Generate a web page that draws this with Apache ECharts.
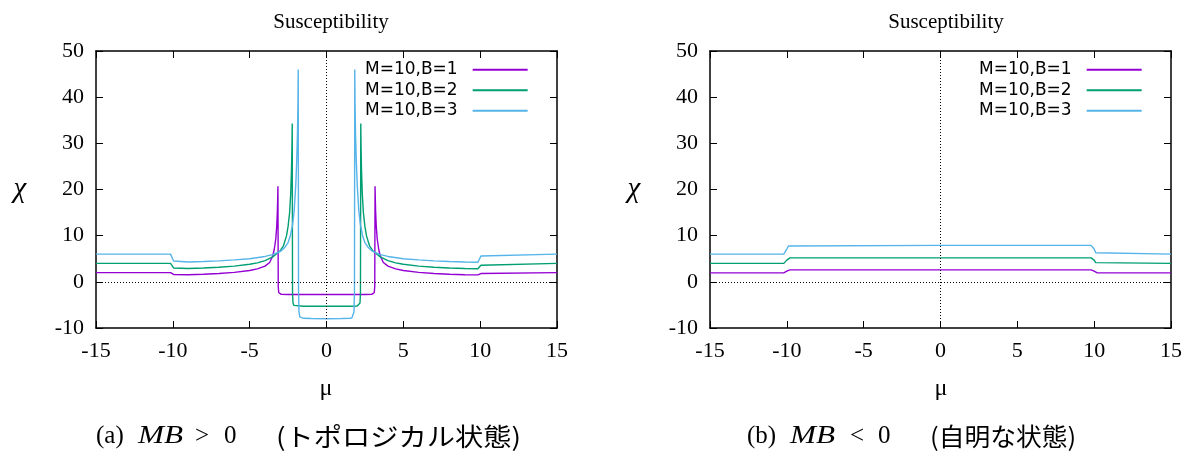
<!DOCTYPE html>
<html>
<head>
<meta charset="utf-8">
<script src="https://cdn.jsdelivr.net/npm/echarts@6.0.0/dist/echarts.min.js"></script>
<style>
html,body{margin:0;padding:0;background:#fff;}
#chart{width:1198px;height:453px;}
</style>
</head>
<body>
<div id="chart"></div>
<script>
// ---------- data ----------
const seriesNames = ['M=10,B=1', 'M=10,B=2', 'M=10,B=3'];
const xTicks = [-15, -10, -5, 0, 5, 10, 15];
const yTicks = [-10, 0, 10, 20, 30, 40, 50];
const titleText = 'Susceptibility';

// (a) MB > 0
const muA1 = [-15, -10.15, -10.05, -9.95, -9.85, -9, -8, -7, -6, -5, -4.5, -4, -3.7, -3.5, -3.4, -3.3, -3.24, -3.2, -3.18, -3.16, -3.14, -3.11, -3.06, -2.95, -2.5,
  0,
  2.5, 2.95, 3.06, 3.11, 3.14, 3.16, 3.18, 3.2, 3.24, 3.3, 3.4, 3.5, 3.7, 4, 4.5, 5, 6, 7, 8, 9, 9.85, 9.95, 10.05, 10.15, 15];
const chiA1 = [2.0, 2.0, 1.8, 1.6, 1.5, 1.55, 1.65, 1.8, 2.05, 2.45, 2.8, 3.4, 4.2, 5.6, 7.0, 9.3, 12, 15, 17.5, 20.7, -1.0, -2.3, -2.62, -2.72, -2.75,
  -2.75,
  -2.75, -2.72, -2.62, -2.3, -1.0, 20.7, 17.5, 15, 12, 9.3, 7.0, 5.6, 4.2, 3.4, 2.8, 2.45, 2.05, 1.8, 1.65, 1.55, 1.5, 1.6, 1.8, 2.0, 2.0];

const muA2 = [-15, -10.15, -10.05, -9.95, -9.85, -9, -8, -7, -6, -5, -4.5, -4, -3.5, -3.0, -2.8, -2.6, -2.5, -2.4, -2.33, -2.28, -2.25, -2.23, -2.21, -2.18, -2.12, -2.0, -1.5,
  0,
  1.5, 2.0, 2.12, 2.18, 2.21, 2.23, 2.25, 2.28, 2.33, 2.4, 2.5, 2.6, 2.8, 3.0, 3.5, 4, 4.5, 5, 6, 7, 8, 9, 9.85, 9.95, 10.05, 10.15, 15];
const chiA2 = [4.0, 4.0, 3.6, 3.0, 2.85, 2.9, 3.0, 3.15, 3.4, 3.8, 4.1, 4.6, 5.4, 6.8, 7.8, 10, 12, 15, 19, 24, 29, 34.3, -2.5, -4.6, -5.1, -5.25, -5.3,
  -5.3,
  -5.3, -5.25, -5.1, -4.6, -2.5, 34.3, 29, 24, 19, 15, 12, 10, 7.8, 6.8, 5.4, 4.6, 4.1, 3.8, 3.4, 3.15, 3.0, 2.9, 2.85, 3.0, 3.6, 4.0, 4.0];

const muA3 = [-15, -10.15, -10.05, -9.95, -9.85, -9, -8, -7, -6, -5, -4, -3.5, -3, -2.7, -2.5, -2.35, -2.2, -2.1, -2.0, -1.94, -1.89, -1.86, -1.84, -1.82, -1.79, -1.74, -1.65, -1.5, -1.0,
  0,
  1.0, 1.5, 1.65, 1.74, 1.79, 1.82, 1.84, 1.86, 1.89, 1.94, 2.0, 2.1, 2.2, 2.35, 2.5, 2.7, 3, 3.5, 4, 5, 6, 7, 8, 9, 9.85, 9.95, 10.05, 10.15, 15];
const chiA3 = [6.0, 6.0, 5.6, 4.5, 4.25, 4.3, 4.4, 4.55, 4.75, 5.0, 5.5, 5.9, 6.6, 7.5, 8.5, 10, 12.5, 15.5, 21, 26, 32, 38, 46, -2, -6.5, -7.6, -7.85, -7.9, -7.95,
  -8.0,
  -7.95, -7.9, -7.85, -7.6, -6.5, -2, 46, 38, 32, 26, 21, 15.5, 12.5, 10, 8.5, 7.5, 6.6, 5.9, 5.5, 5.0, 4.75, 4.55, 4.4, 4.3, 4.25, 4.5, 5.6, 6.0, 6.0];

// (b) MB < 0
const muB = [-15, -10.2, -10.1, -10.0, -9.9, -9.8, 0, 9.8, 9.9, 10.0, 10.1, 10.2, 15];
const chiB1 = [1.95, 1.95, 2.0, 2.3, 2.55, 2.6, 2.6, 2.6, 2.55, 2.3, 2.0, 1.95, 1.95];
const chiB2 = [4.0, 4.0, 4.15, 4.7, 5.1, 5.2, 5.2, 5.2, 5.1, 4.7, 4.15, 4.0, 4.0];
const chiB3 = [6.0, 6.0, 6.3, 7.1, 7.75, 7.9, 7.9, 7.9, 7.75, 7.1, 6.3, 6.0, 6.0];

// ---------- styles ----------
const lineColors = ['#9400d3', '#009e73', '#56b4e9'];
const serif = 'Liberation Serif';

function pairs(xs, ys) { return xs.map((x, i) => [x, ys[i]]); }

const chart = echarts.init(document.getElementById('chart'));

function xAxisDef(grid, pos) {
  return {
    type: 'value', gridIndex: grid, position: pos,
    min: xTicks[0], max: xTicks[xTicks.length - 1], interval: xTicks[1] - xTicks[0],
    axisLine: { show: true, onZero: false, lineStyle: { color: '#000', width: 1.5 } },
    axisTick: { show: true, inside: true, length: 7, lineStyle: { color: '#000', width: 1 } },
    axisLabel: pos === 'bottom' ? { show: true, margin: 12, color: '#000', fontFamily: serif, fontSize: 22 } : { show: false },
    splitLine: { show: false }
  };
}
function yAxisDef(grid, pos) {
  return {
    type: 'value', gridIndex: grid, position: pos,
    min: yTicks[0], max: yTicks[yTicks.length - 1], interval: yTicks[1] - yTicks[0],
    axisLine: { show: true, onZero: false, lineStyle: { color: '#000', width: 1.5 } },
    axisTick: { show: true, inside: true, length: 7, lineStyle: { color: '#000', width: 1 } },
    axisLabel: pos === 'left' ? { show: true, margin: 12, color: '#000', fontFamily: serif, fontSize: 22 } : { show: false },
    splitLine: { show: false }
  };
}

const zeroLines = {
  silent: true, symbol: ['none', 'none'], label: { show: false },
  lineStyle: { type: [1, 2], color: '#000', width: 1 },
  data: [{ yAxis: 0 }, { xAxis: 0 }], animation: false
};

function lineSeries(name, idx, xs, ys, axisIdx, withZero) {
  const s = {
    name: name, type: 'line', xAxisIndex: axisIdx, yAxisIndex: axisIdx,
    data: pairs(xs, ys), showSymbol: false, symbol: 'none', smooth: false,
    lineStyle: { color: lineColors[idx], width: 1.4 }, itemStyle: { color: lineColors[idx] },
    z: 3, animation: false
  };
  if (withZero) s.markLine = zeroLines;
  return s;
}

function legendDef(left) {
  return {
    data: seriesNames, orient: 'vertical', left: left, top: 61, padding: 0,
    align: 'right', icon: 'rect', itemWidth: 55, itemHeight: 2, itemGap: 3,
    textStyle: { fontFamily: 'DejaVu Sans', fontSize: 17, color: '#000', lineHeight: 17.5, padding: [0, 10, 0, 0] }
  };
}

function txt(x, y, text, size, family, extra) {
  return Object.assign({
    type: 'text', x: x, y: y, silent: true,
    style: Object.assign({ text: text, fontSize: size, fontFamily: family, fill: '#000', align: 'left', verticalAlign: 'middle' }, (extra && extra.style) || {})
  }, (extra && extra.el) || {});
}

const option = {
  backgroundColor: '#fff',
  animation: false,
  title: [
    { text: titleText, left: 326, top: 7, textAlign: 'center', textStyle: { fontFamily: serif, fontSize: 21, fontWeight: 'normal', color: '#000' } },
    { text: titleText, left: 941, top: 7, textAlign: 'center', textStyle: { fontFamily: serif, fontSize: 21, fontWeight: 'normal', color: '#000' } }
  ],
  grid: [
    { left: 96, top: 51, width: 461, height: 277, show: false },
    { left: 710, top: 51, width: 461, height: 277, show: false }
  ],
  xAxis: [xAxisDef(0, 'bottom'), xAxisDef(1, 'bottom'), xAxisDef(0, 'top'), xAxisDef(1, 'top')],
  yAxis: [yAxisDef(0, 'left'), yAxisDef(1, 'left'), yAxisDef(0, 'right'), yAxisDef(1, 'right')],
  legend: [legendDef(365), legendDef(979)],
  series: [
    lineSeries(seriesNames[0], 0, muA1, chiA1, 0, true),
    lineSeries(seriesNames[1], 1, muA2, chiA2, 0, false),
    lineSeries(seriesNames[2], 2, muA3, chiA3, 0, false),
    lineSeries(seriesNames[0], 0, muB, chiB1, 1, true),
    lineSeries(seriesNames[1], 1, muB, chiB2, 1, false),
    lineSeries(seriesNames[2], 2, muB, chiB3, 1, false)
  ],
  graphic: [
    txt(20, 189, 'χ', 29, serif, { style: { align: 'center', fontStyle: 'italic' } }),
    txt(326, 389, 'μ', 24, serif, { style: { align: 'center' } }),
    txt(634, 189, 'χ', 29, serif, { style: { align: 'center', fontStyle: 'italic' } }),
    txt(941, 389, 'μ', 24, serif, { style: { align: 'center' } }),
    // captions
    txt(96, 436, '(a)', 25, serif),
    txt(138, 436, 'MB', 25, serif, { style: { fontStyle: 'italic' }, el: { scaleX: 1.25 } }),
    txt(195, 436, '>', 25, serif),
    txt(224, 436, '0', 25, serif),
    txt(276, 436, '(トポロジカル状態)', 25, 'Noto Sans CJK JP', { el: { scaleX: 1.13 } }),
    txt(747, 436, '(b)', 25, serif),
    txt(790, 436, 'MB', 25, serif, { style: { fontStyle: 'italic' }, el: { scaleX: 1.25 } }),
    txt(850, 436, '<', 25, serif),
    txt(878, 436, '0', 25, serif),
    txt(930, 436, '(自明な状態)', 25, 'Noto Sans CJK JP', { el: { scaleX: 1.03 } })
  ]
};
chart.setOption(option);
</script>
</body>
</html>
